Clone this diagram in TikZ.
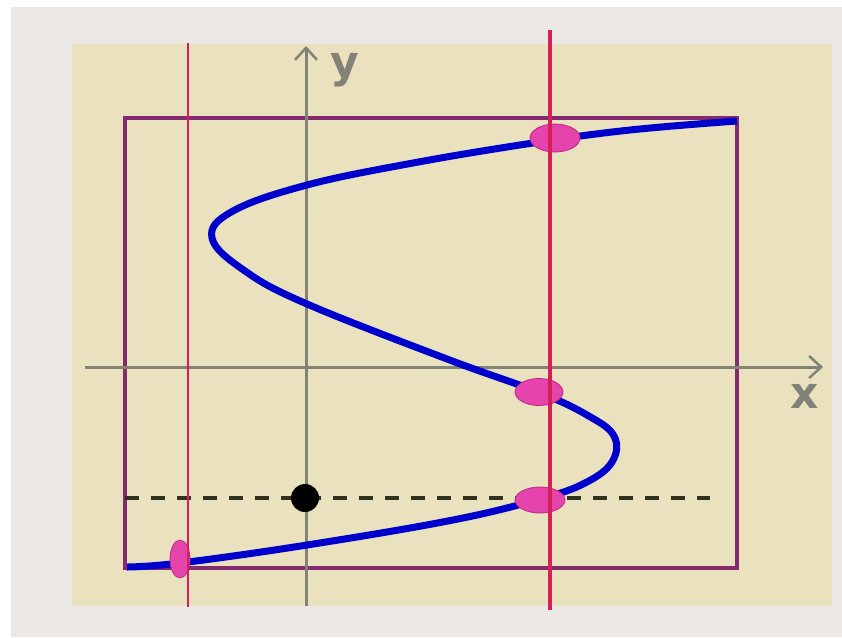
\documentclass[tikz,border=0pt]{standalone}
\usepackage{fontspec}
\setmainfont{DejaVu Sans}
\usetikzlibrary{shapes.geometric,arrows.meta}
\definecolor{bggray}{RGB}{236,232,229}
\definecolor{beige}{RGB}{234,226,190}
\definecolor{rectpurple}{RGB}{132,42,110}
\definecolor{redline}{RGB}{216,30,88}
\definecolor{axisgray}{RGB}{130,130,118}
\definecolor{curveblue}{RGB}{0,0,205}
\definecolor{pinkfill}{RGB}{228,68,172}
\definecolor{pinkedge}{RGB}{190,40,130}
\definecolor{dashcol}{RGB}{50,48,30}
\tikzset{
  axisline/.style={draw=axisgray,line width=3pt,-{Straight Barb[length=12pt,width=22pt,line width=2.5pt]}},
  axislabel/.style={text=axisgray,font=\fontsize{44}{44}\selectfont\bfseries,inner sep=0pt},
  vline/.style={draw=redline},
  hit/.style={ellipse,fill=pinkfill,draw=pinkedge,line width=0.8pt,inner sep=0pt},
  dotnode/.style={circle,fill=black,inner sep=0pt,minimum size=28pt},
}
\begin{document}
\begin{tikzpicture}[x=1pt,y=-1pt]
\useasboundingbox (0,0) rectangle (842,637);
\fill[white] (0,0) rectangle (842,637);
\fill[bggray] (11,7) rectangle (842,637);
\fill[beige] (72,44) rectangle (832,606);
% frame
\draw[rectpurple,line width=3.5pt] (125,118) rectangle (737,568);
% axes
\coordinate (xs) at (85,367);
\coordinate (xe) at (823,367);
\coordinate (ys) at (306,606);
\coordinate (ye) at (306,46);
\draw[axisline] (xs) -- (xe);
\draw[axisline] (ys) -- (ye);
\node[axislabel] (ylab) at (345,70) {y};
\node[axislabel] (xlab) at (805,396) {x};
% dashed level line
\coordinate (ds) at (125,498);
\coordinate (de) at (710,498);
\draw[dashcol,line width=4pt,dash pattern=on 14pt off 12pt] (ds) -- (de);
% curve
\draw[curveblue,line width=7pt,line join=round] plot[smooth,tension=0.65] coordinates {
 (127,567) (180,563) (307,545) (453,520) (540,499) (585,483) (612,462)
 (614,436) (587,415) (538,392) (447,359) (307,304) (245,271) (212,238) (233,211)
 (307,185) (413,163) (533,143) (630,130) (737,121)};
% intersection marks
\node[hit,minimum width=50pt,minimum height=28pt] (p1) at (555,138) {};
\node[hit,minimum width=48pt,minimum height=27pt] (p2) at (539,392) {};
\node[hit,minimum width=50pt,minimum height=26pt] (p3) at (540,500) {};
\node[hit,minimum width=20pt,minimum height=38pt] (p4) at (180,559) {};
% vertical lines
\coordinate (l1t) at (188,43);
\coordinate (l1b) at (188,607);
\coordinate (l2t) at (550,30);
\coordinate (l2b) at (550,610);
\draw[vline,line width=2pt] (l1t) -- (l1b);
\draw[vline,line width=3.5pt] (l2t) -- (l2b);
% point
\node[dotnode] (pt) at (305,498) {};
\end{tikzpicture}
\end{document}
